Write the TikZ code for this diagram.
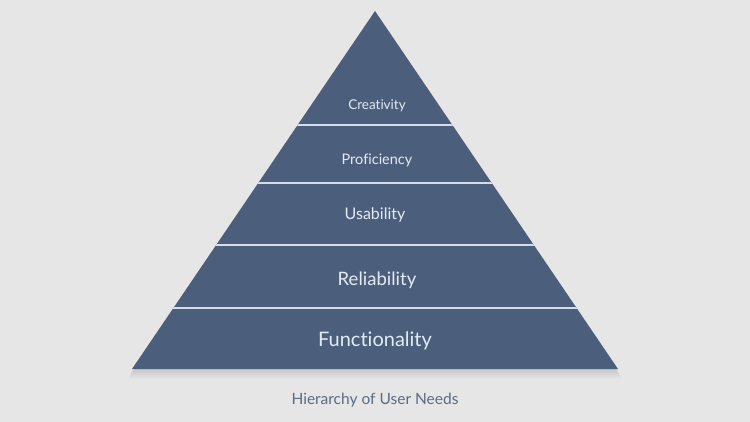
\documentclass[tikz,border=0pt]{standalone}
\usepackage{fontspec}
\setmainfont[Ligatures={NoCommon,NoRare,NoDiscretionary}]{Lato}
\definecolor{bg}{HTML}{E6E6E6}
\definecolor{pyr}{HTML}{4B5F7D}
\definecolor{sep}{HTML}{D3DEEA}
\definecolor{lbl}{HTML}{E2EAF3}
\definecolor{cap}{HTML}{5B6B82}
\tikzset{
  band/.style={text=lbl, anchor=center, inner sep=0pt},
  seprule/.style={draw=sep, line width=2pt},
}
\begin{document}
\begin{tikzpicture}[x=1pt,y=-1pt]
\fill[bg] (0,0) rectangle (750,422);
\useasboundingbox (0,0) rectangle (750,422);
% soft shadow
\foreach \i in {1,...,6}{
  \fill[black, opacity=0.018] (375,{11+\i}) -- ({618+\i*0.6},{369+\i*1.6}) -- ({132-\i*0.6},{369+\i*1.6}) -- cycle;
}
\coordinate (apex) at (375,11);
\coordinate (bl) at (132,369);
\coordinate (br) at (618,369);
\fill[pyr] (apex) -- (br) -- (bl) -- cycle;
\begin{scope}
\clip (apex) -- (br) -- (bl) -- cycle;
\foreach \y in {125.5,183.5,245.5,307.5}{
  \draw[seprule] (100,\y) -- (650,\y);
}
\end{scope}
\node[band, font=\fontsize{13.5}{16}\selectfont] (creativity) at (377,106) {Creativity};
\node[band, font=\fontsize{14.5}{17}\selectfont] (proficiency) at (377,160) {Proficiency};
\node[band, font=\fontsize{16}{19}\selectfont] (usability) at (375,215) {Usability};
\node[band, font=\fontsize{18.5}{22}\selectfont] (reliability) at (377,280) {Reliability};
\node[band, font=\fontsize{20}{24}\selectfont] (functionality) at (375,341) {Functionality};
\node[text=cap, font=\fontsize{15.5}{19}\selectfont, inner sep=0pt] (caption) at (375,400) {Hierarchy of User Needs};
\end{tikzpicture}
\end{document}
